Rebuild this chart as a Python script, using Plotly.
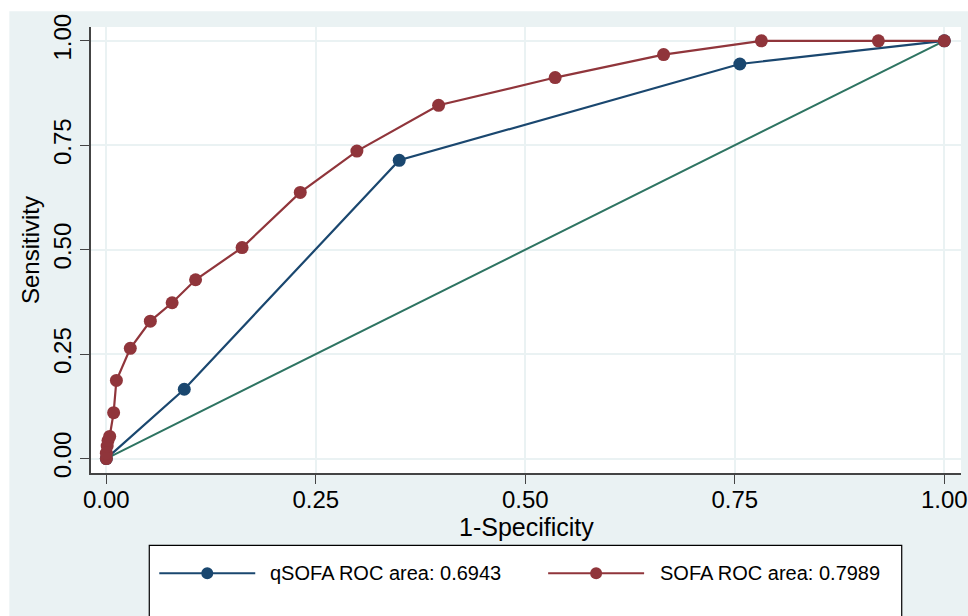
import plotly.graph_objects as go

# qSOFA ROC points
qsofa_fpr = [0.0, 0.093, 0.3495, 0.756, 1.0]
qsofa_tpr = [0.0, 0.166, 0.714, 0.9445, 1.0]

# SOFA ROC points
sofa_fpr = [0.0, 0.0, 0.001, 0.002, 0.004, 0.0087, 0.012, 0.0286, 0.0525, 0.0785,
            0.1065, 0.162, 0.2314, 0.299, 0.3965, 0.5356, 0.665, 0.7817, 0.9213, 1.0]
sofa_tpr = [0.0, 0.013, 0.03, 0.043, 0.053, 0.110, 0.187, 0.264, 0.329, 0.373,
            0.428, 0.505, 0.637, 0.736, 0.8456, 0.912, 0.967, 1.0, 1.0, 1.0]

# reference line
ref_x = [0.0, 1.0]
ref_y = [0.0, 1.0]

tick_vals = [0, 0.25, 0.5, 0.75, 1.0]
tick_text = ["0.00", "0.25", "0.50", "0.75", "1.00"]

legend_labels = ["qSOFA ROC area: 0.6943", "SOFA ROC area: 0.7989"]
x_title = "1-Specificity"
y_title = "Sensitivity"

BLUE = "#1A476F"
RED = "#90353B"
GREEN = "#2E7462"
BG = "#EAF2F3"
FONT = "Liberation Sans, Arial, sans-serif"

fig = go.Figure()
fig.add_trace(go.Scatter(x=ref_x, y=ref_y, mode="lines",
                         line=dict(color=GREEN, width=2), showlegend=False))
fig.add_trace(go.Scatter(x=qsofa_fpr, y=qsofa_tpr, mode="lines+markers",
                         line=dict(color=BLUE, width=2.2),
                         marker=dict(color=BLUE, size=13), showlegend=False))
fig.add_trace(go.Scatter(x=sofa_fpr, y=sofa_tpr, mode="lines+markers",
                         line=dict(color=RED, width=2.2),
                         marker=dict(color=RED, size=13), showlegend=False))

L, R, T, B = 90.7, 7, 26.7, 143.3
W, H = 968, 616
pw, ph = W - L - R, H - T - B

def px2x(p):
    return (p - L) / pw

def px2y(p):
    return (H - B - p) / ph

shapes = []
# white strips outside the Stata-like graph region
shapes.append(dict(type="rect", xref="paper", yref="paper", x0=px2x(-5), x1=px2x(W + 5),
                   y0=px2y(11), y1=px2y(-5), fillcolor="white", line=dict(width=0), layer="below"))
shapes.append(dict(type="rect", xref="paper", yref="paper", x0=px2x(-5), x1=px2x(9),
                   y0=px2y(H + 5), y1=px2y(-5), fillcolor="white", line=dict(width=0), layer="below"))
# legend box
shapes.append(dict(type="rect", xref="paper", yref="paper", x0=px2x(149), x1=px2x(901.7),
                   y0=px2y(H + 20), y1=px2y(545), fillcolor="white",
                   line=dict(color="black", width=1.2), layer="above"))

annotations = []
leg_y = px2y(573)
entries = [(159, 255, 207, 268, BLUE, legend_labels[0]),
           (548, 644, 596, 658, RED, legend_labels[1])]
for x0, x1, xm, xt, col, lab in entries:
    shapes.append(dict(type="line", xref="paper", yref="paper", x0=px2x(x0), x1=px2x(x1),
                       y0=leg_y, y1=leg_y, line=dict(color=col, width=2), layer="above"))
    shapes.append(dict(type="circle", xref="paper", yref="paper",
                       xsizemode="pixel", ysizemode="pixel",
                       xanchor=px2x(xm), yanchor=leg_y, x0=-6, x1=6, y0=-6, y1=6,
                       fillcolor=col, line=dict(color=col, width=0), layer="above"))
    annotations.append(dict(xref="paper", yref="paper", x=px2x(xt), y=leg_y,
                            xanchor="left", yanchor="middle", showarrow=False,
                            text=lab, font=dict(family=FONT, size=20, color="black")))

# x axis title placed just under the tick labels
annotations.append(dict(xref="paper", yref="paper", x=0.5, y=px2y(527),
                        xanchor="center", yanchor="middle", showarrow=False, borderpad=0,
                        text=x_title, font=dict(family=FONT, size=25, color="black")))

fig.update_layout(
    width=W, height=H,
    margin=dict(l=L, r=R, t=T, b=B, pad=0),
    paper_bgcolor=BG, plot_bgcolor="white",
    font=dict(family=FONT, color="black"),
    shapes=shapes, annotations=annotations,
    showlegend=False,
)
fig.update_xaxes(range=[-0.0183, 1.0199], tickvals=tick_vals, ticktext=tick_text,
                 automargin=False,
                 showgrid=True, gridcolor=BG, gridwidth=2, zeroline=False,
                 showline=True, linecolor="#444444", linewidth=1.5,
                 ticks="outside", ticklen=9, tickcolor="#444444", tickwidth=1.2,
                 ticklabelstandoff=-5,
                 tickfont=dict(size=24, family=FONT, color="black"))
fig.update_yaxes(range=[-0.0345, 1.033], tickvals=tick_vals, ticktext=tick_text,
                 automargin=False,
                 showgrid=True, gridcolor=BG, gridwidth=2, zeroline=False,
                 showline=True, linecolor="#444444", linewidth=1.5,
                 ticks="outside", ticklen=9, tickcolor="#444444", tickwidth=1.2,
                 tickangle=-90,
                 tickfont=dict(size=24, family=FONT, color="black"),
                 title=dict(text=y_title, font=dict(size=24, family=FONT, color="black"),
                            standoff=2))

fig.write_html("out.html", config={"displayModeBar": False},
               post_script="document.body.style.margin='0px';")
